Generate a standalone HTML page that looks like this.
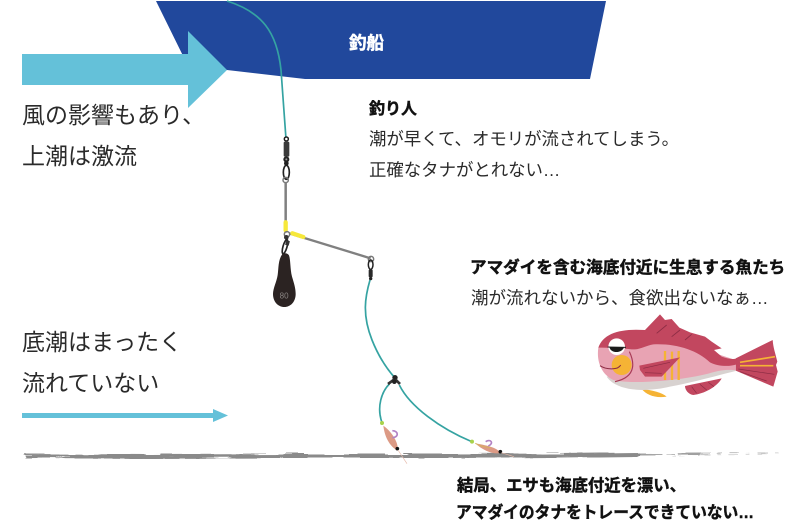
<!DOCTYPE html>
<html lang="ja"><head><meta charset="utf-8"><style>
html,body{margin:0;padding:0;background:#fff;width:800px;height:529px;overflow:hidden}
svg{display:block}
text{font-family:"Liberation Sans","Noto Sans CJK JP",sans-serif;fill:#2a2a2a}
.b{font-weight:700;fill:#111;stroke:#111;stroke-width:.45px}
</style></head><body>
<svg width="800" height="529" viewBox="0 0 800 529">
<defs>
<filter id="rough" x="-2%" y="-300%" width="104%" height="700%">
<feTurbulence type="fractalNoise" baseFrequency="0.025 0.5" numOctaves="3" seed="4"/>
<feDisplacementMap in="SourceGraphic" scale="5" yChannelSelector="G" xChannelSelector="R"/>
</filter>
</defs>
<rect width="800" height="529" fill="#fff"/>
<!-- boat -->
<polygon points="156,1 606,1 590,79 305,79 227,70 190,70" fill="#21489c"/>
<text x="349" y="49" font-size="17.500" class="b" style="fill:#fff;stroke:#fff">釣船</text>
<!-- arrows -->
<polygon points="22,54 188,54 188,31 227,70 188,108 188,85 22,85" fill="#64c1d9"/>
<rect x="22" y="413" width="192" height="5" fill="#64c1d9"/>
<polygon points="213,409 228,415.500 213,422" fill="#64c1d9"/>
<!-- left text -->
<text x="22" y="123" font-size="23">風の影響もあり、</text>
<text x="22" y="164" font-size="23">上潮は激流</text>
<text x="22" y="350" font-size="23">底潮はまったく</text>
<text x="22" y="391" font-size="23">流れていない</text>
<!-- top text -->
<text x="369" y="114" font-size="16" class="b">釣り人</text>
<text x="369" y="145" font-size="17.400">潮が早くて、オモリが流されてしまう。</text>
<text x="369" y="176" font-size="17.400">正確なタナがとれない…</text>
<!-- fish text -->
<text x="470" y="273" font-size="16.600" class="b">アマダイを含む海底付近に生息する魚たち</text>
<text x="471" y="304" font-size="17.500">潮が流れないから、食欲出ないなぁ…</text>
<!-- bottom text -->
<text x="457" y="491" font-size="16.600" class="b" textLength="229" lengthAdjust="spacingAndGlyphs">結局、エサも海底付近を漂い、</text>
<text x="456" y="518" font-size="16.500" class="b" textLength="298" lengthAdjust="spacingAndGlyphs">アマダイのタナをトレースできていない…</text>
<!-- seabed -->
<g filter="url(#rough)">
<path d="M25 456 L150 456.500 L300 456 L450 456 L560 455.500 L640 454.500" stroke="#8a8a8a" stroke-width="4" fill="none"/>
<path d="M640 454.500 L700 454" stroke="#a0a0a0" stroke-width="2" fill="none" stroke-dasharray="22 4 9 3"/>
<path d="M700 454 L782 454" stroke="#c8c8c8" stroke-width="1.300" fill="none" stroke-dasharray="10 7 4 8"/>
</g>
<!-- main line -->
<path d="M227 1 C262 12 277 32 281 70 L286 139" stroke="#35a3a2" stroke-width="1.700" fill="none"/>
<!-- rig, zoom coordinates -->
<g transform="translate(240,120) scale(.33333)">
<circle cx="139" cy="57" r="6" fill="#fff" stroke="#1c1c1c" stroke-width="4.500"/>
<rect x="131" y="65" width="17" height="45" rx="4" fill="#3a3a3a"/>
<circle cx="139" cy="118" r="9" fill="#222"/>
<circle cx="139" cy="118" r="3" fill="#999"/>
<circle cx="139" cy="130" r="7" fill="#222"/>
<ellipse cx="139" cy="157" rx="9" ry="21" fill="none" stroke="#222" stroke-width="5"/>
<circle cx="137" cy="180" r="8" fill="none" stroke="#777" stroke-width="4.500"/>
<path d="M137 187 L137 338" stroke="#808080" stroke-width="7.500"/>
<path d="M137 307 L137 331" stroke="#f6e83a" stroke-width="13" stroke-linecap="round"/>
<path d="M148 340 L392 415" stroke="#808080" stroke-width="7"/>
<path d="M157 340 L190 351" stroke="#f6e83a" stroke-width="13" stroke-linecap="round"/>
<circle cx="141" cy="343" r="8" fill="none" stroke="#777" stroke-width="4.500"/>
<circle cx="393" cy="417" r="8" fill="none" stroke="#777" stroke-width="4.500"/>
<ellipse cx="392" cy="434" rx="7" ry="14" fill="none" stroke="#222" stroke-width="4.500"/>
<rect x="386" y="448" width="12" height="24" rx="4" fill="#2a2a2a"/>
<circle cx="392" cy="476" r="5" fill="#222"/>
<!-- snap to sinker -->
<circle cx="139" cy="352" r="7" fill="#333"/>
<ellipse cx="135" cy="380" rx="6" ry="22" fill="none" stroke="#222" stroke-width="5" transform="rotate(16 135 380)"/>
<rect x="137" y="362" width="11" height="14" fill="#333" transform="rotate(16 142 369)"/>
<!-- sinker -->
<path d="M127 402 C136 398 143 400 147 406 C152 420 150 445 156 470 C162 490 167 505 167 522 C167 545 152 561 133 561 C114 561 99 545 99 522 C99 505 110 485 113 465 C116 445 114 420 127 402 Z" fill="#2b2322"/>
<text x="119" y="535" font-size="24" style="fill:#8a8583">80</text>
</g>
<!-- lower line -->
<path d="M370 280 C365 297 362 315 372 340 C378 355 386 368 395 378" stroke="#35a3a2" stroke-width="1.700" fill="none"/>
<g transform="translate(360,360) scale(.33333)">
<path d="M88 72 C65 95 50 140 65 185" stroke="#35a3a2" stroke-width="5" fill="none"/>
<path d="M118 75 C150 140 240 205 335 245" stroke="#35a3a2" stroke-width="5" fill="none"/>
<circle cx="105" cy="53" r="8" fill="#222"/>
<path d="M103 58 L84 72 M106 58 L120 72" stroke="#333" stroke-width="8"/>
<circle cx="103" cy="65" r="7" fill="#222"/>
<!-- shrimp 1 -->
<circle cx="66" cy="189" r="6" fill="#a8d24a"/>
<path d="M70 197 C75 240 95 262 112 272 C118 250 95 215 70 197 Z" fill="#dc9a85"/>
<circle cx="112" cy="266" r="5.500" fill="#111"/>
<path d="M114 270 L141 311" stroke="#e6b9a8" stroke-width="2"/>
<path d="M97 212 C115 212 118 232 97 233" stroke="#b383c4" stroke-width="5" fill="none"/>
<!-- shrimp 2 -->
<circle cx="336" cy="245" r="6" fill="#a8d24a"/>
<path d="M346 250 C370 272 400 284 422 279 C412 262 375 255 346 250 Z" fill="#dc9a85"/>
<path d="M346 250 C360 258 375 262 392 262" stroke="#d6b060" stroke-width="3" fill="none"/>
<circle cx="421" cy="275" r="5.500" fill="#111"/>
<path d="M424 278 L462 290" stroke="#e6b9a8" stroke-width="2"/>
<path d="M377 245 C392 235 403 250 385 258" stroke="#b383c4" stroke-width="5" fill="none"/>
</g>
<!-- fish, zoom coordinates -->
<g transform="translate(590,305) scale(.33333)">
<!-- tail -->
<path d="M437 160 L548 105 C550 130 555 140 562 170 L558 180 L563 200 L550 245 L437 197 Z" fill="#c2475f"/>
<path d="M450 172 L555 155 M450 182 L550 182" stroke="#f5b335" stroke-width="5" fill="none"/>
<path d="M445 192 L553 208 M450 200 L530 228" stroke="#8c2c44" stroke-width="2" fill="none"/>
<!-- lower fin -->
<path d="M285 243 L395 220 C385 240 350 265 310 270 C295 268 285 255 285 243 Z" fill="#c2475f"/>
<path d="M305 245 L320 265 M330 238 L350 255 M355 232 L372 245" stroke="#8c2c44" stroke-width="2"/>
<!-- yellow fin -->
<path d="M155 252 C185 255 215 262 230 275 C195 280 170 270 155 252 Z" fill="#f5b335"/>
<!-- grey belly -->
<path d="M50 215 C80 260 170 262 240 245 C310 232 380 212 437 198 L437 180 L200 200 Z" fill="#d8d2d0"/>
<!-- pink body -->
<path d="M25 128 C20 160 28 205 70 225 C130 240 290 225 365 203 C395 194 420 193 437 196 L437 165 L300 120 L100 110 Z" fill="#e8a3b3"/>
<!-- dark top -->
<path d="M25 128 C40 85 90 70 165 75 L210 28 L225 45 L245 42 L268 68 L300 82 L345 95 L365 110 L395 130 L372 135 L395 155 C410 160 425 165 440 160 L440 178 C420 185 385 185 360 172 C320 135 260 115 190 118 C165 122 150 135 125 133 C90 130 55 128 25 128 Z" fill="#c2475f"/>
<path d="M200 85 L230 60 M245 95 L270 75 M285 105 L305 88" stroke="#8c2c44" stroke-width="2.500"/>
<!-- cheek -->
<circle cx="95" cy="180" r="30" fill="#f5b335"/>
<path d="M30 182 C50 195 85 195 92 180" stroke="#8c2c44" stroke-width="3" fill="none"/>
<path d="M118 140 C130 165 145 215 75 230" stroke="#a83a55" stroke-width="3.500" fill="none"/>
<!-- stripes -->
<path d="M225 138 L225 225 M246 140 L246 225 M266 138 L266 225" stroke="#f5b335" stroke-width="7"/>
<!-- pectoral -->
<path d="M148 182 L270 157 L215 215 L165 215 L150 195 Z" fill="#c2475f"/>
<path d="M160 190 L240 172 M165 203 L215 205" stroke="#8c2c44" stroke-width="2"/>
<!-- eye -->
<circle cx="80" cy="125" r="25" fill="#fff"/>
<path d="M53 126 L108 127" stroke="#222" stroke-width="3"/>
<path d="M58 126 C62 146 95 146 102 127 Z" fill="#1a1a1a"/>
</g>
</svg>
</body></html>
